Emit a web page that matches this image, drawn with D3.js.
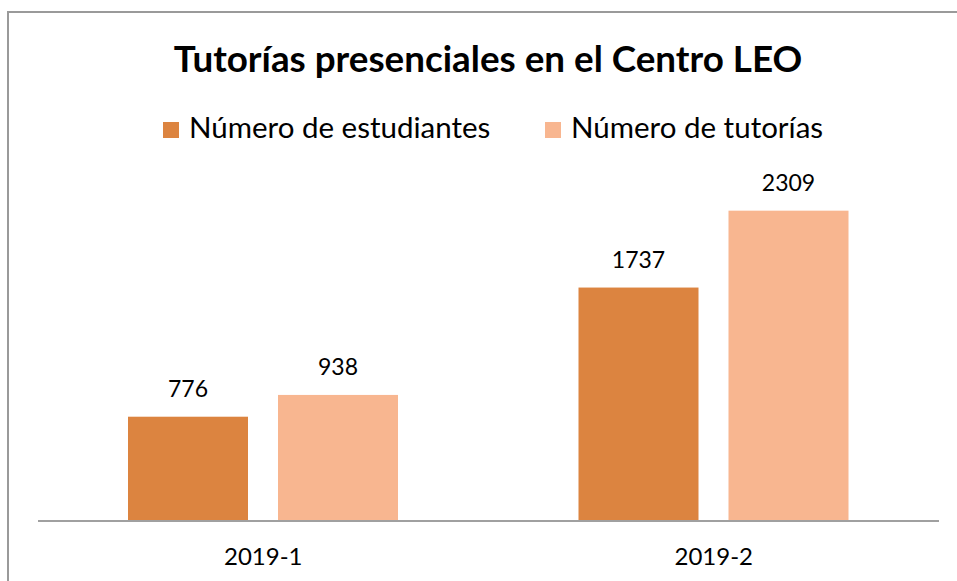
<!DOCTYPE html>
<html>
<head>
<meta charset="utf-8">
<script src="https://cdn.jsdelivr.net/npm/d3@7"></script>
<style>
  body { margin: 0; background: #fff; }
  text { font-family: Lato, "Open Sans", sans-serif; fill: #000; }
</style>
</head>
<body>
<div id="chart"></div>
<script>
const categories = ['2019-1', '2019-2'];
const seriesNames = ['Número de estudiantes', 'Número de tutorías'];
const estudiantes = [776, 1737];
const tutorias = [938, 2309];
const title = 'Tutorías presenciales en el Centro LEO';

const colors = ['#DC8440', '#F8B690'];
const width = 957, height = 581;

const svg = d3.select('#chart').append('svg')
  .attr('width', width)
  .attr('height', height);

// Outer frame (right and bottom edges fall outside the picture)
svg.append('rect')
  .attr('x', 8).attr('y', 12)
  .attr('width', 1000).attr('height', 1000)
  .attr('fill', 'none')
  .attr('stroke', '#9a9a9a')
  .attr('stroke-width', 2);

// Title
svg.append('text')
  .attr('x', 488).attr('y', 72)
  .attr('text-anchor', 'middle')
  .attr('font-size', 36.8)
  .attr('font-weight', 'bold')
  .text(title);

// Legend
const legendX = [163, 545];
const legend = svg.selectAll('.legend')
  .data(seriesNames)
  .enter().append('g')
  .attr('class', 'legend')
  .attr('transform', (d, i) => 'translate(' + legendX[i] + ',122)');
legend.append('rect')
  .attr('width', 16).attr('height', 16)
  .attr('fill', (d, i) => colors[i]);
legend.append('text')
  .attr('x', 26).attr('y', 15.5)
  .attr('font-size', 29.5)
  .text(d => d);

// Scales
const baseY = 521;
const x0 = d3.scaleBand().domain(categories).range([38, 939]);
const x1 = d3.scaleBand().domain([0, 1]).range([90, 360]).paddingInner(0.2);
const y = d3.scaleLinear().domain([0, 2500]).range([baseY, 185]);

const rows = categories.map((c, i) => ({ cat: c, vals: [estudiantes[i], tutorias[i]] }));

const groups = svg.selectAll('.grp')
  .data(rows)
  .enter().append('g')
  .attr('class', 'grp')
  .attr('transform', d => 'translate(' + x0(d.cat) + ',0)');

groups.selectAll('rect')
  .data(d => d.vals)
  .enter().append('rect')
  .attr('x', (d, i) => x1(i))
  .attr('width', x1.bandwidth())
  .attr('y', d => y(d))
  .attr('height', d => baseY - y(d))
  .attr('fill', (d, i) => colors[i]);

groups.selectAll('.lbl')
  .data(d => d.vals)
  .enter().append('text')
  .attr('class', 'lbl')
  .attr('x', (d, i) => x1(i) + x1.bandwidth() / 2)
  .attr('y', d => y(d) - 20)
  .attr('text-anchor', 'middle')
  .attr('font-size', 23)
  .text(d => d);

// X axis
const xAxis = svg.append('g')
  .attr('transform', 'translate(0,' + baseY + ')')
  .call(d3.axisBottom(x0).tickSize(0).tickPadding(27));
xAxis.select('.domain')
  .attr('d', 'M38,0H939')
  .attr('stroke', '#a0a0a0')
  .attr('stroke-width', 2);
xAxis.selectAll('text')
  .attr('font-size', 24)
  .attr('font-family', 'Lato, sans-serif')
  .attr('fill', '#000');
</script>
</body>
</html>
